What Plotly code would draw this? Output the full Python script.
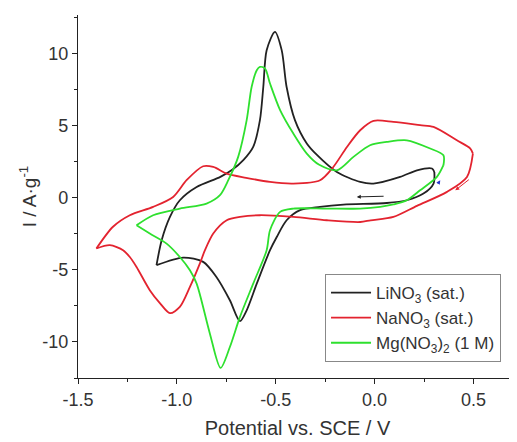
import plotly.graph_objects as go

# LiNO3 (sat.) - black
li_upper_x = [-1.103, -1.077, -1.035, -0.985, -0.90, -0.78, -0.72, -0.664, -0.614, -0.58, -0.563, -0.546, -0.504,
              -0.47, -0.445, -0.403, -0.343, -0.293, -0.191, -0.073, -0.006, 0.129, 0.214, 0.29, 0.302]
li_upper_y = [-4.67, -2.94, -1.32, -0.16, 0.76, 1.46, 1.95, 2.62, 3.54, 5.4, 7.7, 10.26, 11.53,
              10.26, 7.7, 5.4, 3.78, 3.0, 1.8, 1.11, 1.0, 1.46, 1.92, 2.04, 1.8]
li_lower_x = [0.302, 0.298, 0.247, 0.163, 0.062, -0.158, -0.276, -0.377, -0.445, -0.495, -0.529, -0.596, -0.647,
              -0.681, -0.732, -0.80, -0.867, -0.968, -1.103]
li_lower_y = [1.8, 1.0, 0.3, -0.16, -0.35, -0.46, -0.62, -0.85, -1.55, -2.71, -3.63, -5.95, -7.8,
              -8.55, -7.1, -5.49, -4.44, -4.14, -4.67]

# NaNO3 (sat.) - red
na_upper_x = [-1.407, -1.323, -1.238, -1.12, -1.019, -0.951, -0.867, -0.816, -0.748, -0.65, -0.529, -0.411,
              -0.276, -0.209, -0.14, -0.073, -0.006, 0.095, 0.23, 0.298, 0.416, 0.484, 0.497]
na_upper_y = [-3.51, -2.0, -1.2, -0.62, 0.07, 1.23, 2.2, 2.15, 1.69, 1.4, 1.11, 1.0,
              1.23, 2.15, 3.54, 4.7, 5.35, 5.28, 5.05, 4.93, 4.0, 3.43, 3.08]
na_lower_x = [0.497, 0.467, 0.366, 0.214, 0.095, -0.02, -0.073, -0.242, -0.411, -0.58, -0.681, -0.748, -0.816,
              -0.858, -0.884, -0.934, -0.985, -1.035, -1.086, -1.137, -1.204, -1.238, -1.272, -1.339, -1.407]
na_lower_y = [3.08, 1.46, 0.42, -0.55, -1.32, -1.55, -1.67, -1.55, -1.32, -1.2, -1.32, -1.55, -2.47,
              -3.63, -4.56, -6.18, -7.57, -8.0, -7.3, -6.4, -4.79, -4.1, -3.63, -3.28, -3.51]

# Mg(NO3)2 (1 M) - green
mg_upper_x = [-1.204, -1.12, -0.985, -0.85, -0.782, -0.74, -0.69, -0.647, -0.622, -0.596, -0.58, -0.554, -0.529,
              -0.478, -0.411, -0.343, -0.28, -0.191, -0.107, -0.023, 0.062, 0.163, 0.281, 0.348, 0.348]
mg_upper_y = [-1.9, -1.2, -0.74, -0.39, 0.19, 1.23, 2.85, 5.4, 7.7, 8.87, 9.1, 8.98, 7.94,
              6.1, 4.47, 3.08, 2.3, 1.92, 2.85, 3.66, 3.89, 4.0, 3.43, 2.96, 2.27]
mg_lower_x = [0.348, 0.315, 0.23, 0.163, 0.095, 0.028, -0.073, -0.242, -0.411, -0.478, -0.529, -0.546, -0.614,
              -0.681, -0.732, -0.779, -0.833, -0.90, -0.934, -0.985, -1.052, -1.137, -1.204]
mg_lower_y = [2.27, 1.46, 0.53, -0.16, -0.45, -0.62, -0.74, -0.74, -0.74, -0.97, -2.24, -3.63, -5.95,
              -8.26, -10.35, -11.8, -9.42, -5.95, -5.02, -4.1, -3.17, -2.47, -1.9]

# tick labels
x_tickvals = [-1.5, -1.0, -0.5, 0.0, 0.5]
x_ticktext = ["-1.5", "-1.0", "-0.5", "0.0", "0.5"]
y_tickvals = [-10, -5, 0, 5, 10]
y_ticktext = ["-10", "-5", "0", "5", "10"]

series = [
    ("LiNO<sub>3</sub> (sat.)", "#222222", li_upper_x, li_upper_y, li_lower_x, li_lower_y),
    ("NaNO<sub>3</sub> (sat.)", "#e3232f", na_upper_x, na_upper_y, na_lower_x, na_lower_y),
    ("Mg(NO<sub>3</sub>)<sub>2</sub> (1 M)", "#2ee02e", mg_upper_x, mg_upper_y, mg_lower_x, mg_lower_y),
]

fig = go.Figure()
for name, color, ux, uy, lx, ly in series:
    fig.add_trace(go.Scatter(x=ux, y=uy, mode="lines", name=name, legendgroup=name,
                             line=dict(color=color, width=1.8, shape="spline", smoothing=0.8)))
    fig.add_trace(go.Scatter(x=lx, y=ly, mode="lines", name=name, legendgroup=name, showlegend=False,
                             line=dict(color=color, width=1.8, shape="spline", smoothing=0.8)))

# scan direction arrows
arrows = [((-0.09, 0.07), (0.053, 0.12), "#222222"),
          ((0.408, 0.53), (0.484, 1.35), "#e3232f"),
          ((0.332, 1.23), (0.315, 0.88), "#2233cc")]
for (hx, hy), (tx, ty), c in arrows:
    fig.add_annotation(x=hx, y=hy, ax=tx, ay=ty, xref="x", yref="y", axref="x", ayref="y",
                       showarrow=True, arrowhead=2, arrowsize=0.8, arrowwidth=1, arrowcolor=c, text="")

fig.update_layout(
    width=509, height=434,
    margin=dict(l=70, r=0, t=7, b=64),
    paper_bgcolor="white", plot_bgcolor="white",
    font=dict(family="Liberation Sans, Arial, sans-serif", size=16, color="#333333"),
    showlegend=True,
    legend=dict(x=0.5627, y=0.2865, xanchor="left", yanchor="top",
                bordercolor="#888888", borderwidth=1, bgcolor="white",
                font=dict(size=17), tracegroupgap=0, itemwidth=40),
)
fig.update_xaxes(range=[-1.5, 0.72], tickvals=x_tickvals, ticktext=x_ticktext, automargin=False,
                 showline=True, linecolor="#222222", linewidth=1.2,
                 ticks="outside", ticklen=5, tickcolor="#222222", showgrid=False, zeroline=False,
                 minor=dict(ticks="outside", ticklen=3, dtick=0.25, tickcolor="#222222"),
                 title=dict(text="Potential vs. SCE / V", font=dict(size=20), standoff=12),
                 tickfont=dict(size=18))
fig.update_yaxes(range=[-12.5, 12.7], tickvals=y_tickvals, ticktext=y_ticktext, automargin=False,
                 showline=True, linecolor="#222222", linewidth=1.2,
                 ticks="outside", ticklen=5, tickcolor="#222222", showgrid=False, zeroline=False,
                 minor=dict(ticks="outside", ticklen=3, dtick=2.5, tickcolor="#222222"),
                 title=dict(text="I / A·g<sup>-1</sup>", font=dict(size=19), standoff=0),
                 tickfont=dict(size=18))

fig.write_html("out.html")
